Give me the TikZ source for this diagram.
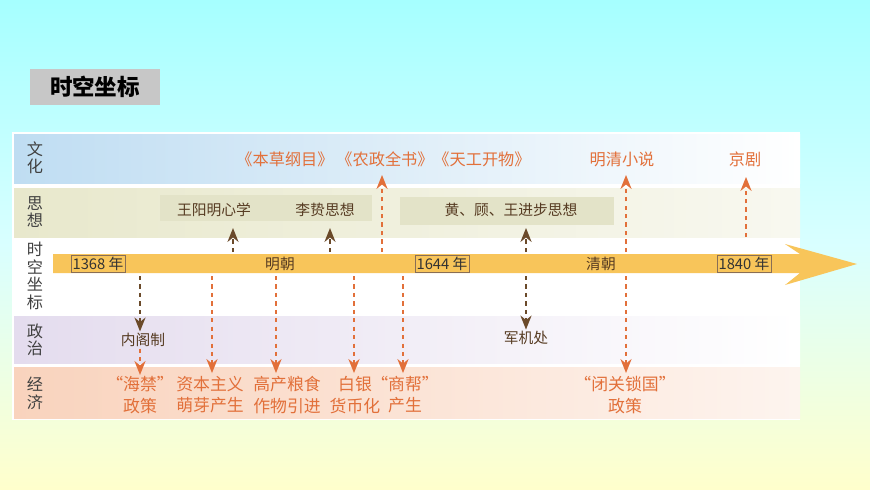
\documentclass[tikz,border=0pt]{standalone}
\usepackage{fontspec}
\setmainfont{Noto Sans CJK SC}
\usetikzlibrary{arrows.meta}
\definecolor{barcol}{HTML}{F8C55A}
\definecolor{orng}{HTML}{E2703A}
\definecolor{brwn}{HTML}{6B4A2A}
\definecolor{culc}{HTML}{BFDDF2}
\definecolor{thoc}{HTML}{E8E8CC}
\definecolor{polc}{HTML}{E4DCEE}
\definecolor{ecoc}{HTML}{F9D3BD}
\begin{document}
\begin{tikzpicture}[x=0.025cm,y=-0.025cm,inner sep=1pt,font=\fontsize{10.5pt}{12pt}\selectfont,
band/.style={draw=none},
rowlabel/.style={align=center,text=black!75,font=\fontsize{11.5pt}{12.5pt}\selectfont},
yearbox/.style={draw=brwn!80,thin,inner sep=1pt,text=black!80},
cult/.style={text=orng,font=\fontsize{11.5pt}{14pt}\selectfont},
econ/.style={text=orng,align=center,font=\fontsize{12pt}{15pt}\selectfont},
dark/.style={text=brwn!80!black},
oarr/.style={orng,thick,dashed,-{Stealth[length=10pt,width=8pt,line width=0pt]}},
darr/.style={brwn,thick,dashed,-{Stealth[length=10pt,width=8pt,line width=0pt]}}]
\useasboundingbox (0,0) rectangle (870,489);
\shade[top color=cyan!35,bottom color=yellow!20,middle color=cyan!15] (0,0) rectangle (870,489);
% title
\node[fill=black!22,minimum width=3.25cm,minimum height=0.92cm,font=\fontsize{16pt}{16pt}\selectfont\bfseries] (title) at (95,87) {时空坐标};
% bands
\fill[white] (12,132) rectangle (800,420);
\shade[band,left color=culc,right color=white] (14,134) rectangle (800,183);
\shade[band,left color=thoc,right color=thoc!30] (14,188) rectangle (800,237);
\shade[band,left color=polc,right color=white] (14,316) rectangle (800,363);
\shade[band,left color=ecoc,right color=ecoc!25] (14,367) rectangle (800,418);
\fill[thoc!80!black!10!thoc] (160,195) rectangle (372,221);
\fill[thoc!80!black!10!thoc] (400,197) rectangle (614,225);
\node[rowlabel] (lcul) at (35,158) {文\\化};
\node[rowlabel] (ltho) at (35,212) {思\\想};
\node[rowlabel] (ltime) at (35,276) {时\\空\\坐\\标};
\node[rowlabel] (lpol) at (35,340) {政\\治};
\node[rowlabel] (leco) at (35,393) {经\\济};
% time bar
\fill[barcol] (53,254) -- (800,254) -- (785,244) -- (857,264) -- (785,285) -- (800,273) -- (53,273) -- cycle;
\node[yearbox] (y1368) at (98,264) {1368 年};
\node[yearbox] (y1644) at (442,264) {1644 年};
\node[yearbox] (y1840) at (744,264) {1840 年};
\node[dark] (ming) at (280,264) {明朝};
\node[dark] (qing) at (601,264) {清朝};
\foreach \n/\x in {wang/233,li/330,nz/382,jun/526,mq/626,jj/746}
  \coordinate (t\n) at (\x,252);
\foreach \n/\x in {nei/140,zb/212,gc/276,by/354,sb/403,jun/526,mq/626}
  \coordinate (b\n) at (\x,276);
% culture
\node[cult] (bc) at (285,159) {《本草纲目》};
\node[cult] (nz) at (385,159) {《农政全书》};
\node[cult] (tg) at (482,159) {《天工开物》};
\node[cult] (mq) at (622,159) {明清小说};
\node[cult] (jj) at (745,159) {京剧};
% thought
\node[dark] (wang) at (214,210) {王阳明心学};
\node[dark] (li) at (325,210) {李贽思想};
\node[dark] (hgw) at (511,210) {黄、顾、王进步思想};
% politics
\node[dark] (nei) at (143,340) {内阁制};
\node[dark] (jun) at (526,338) {军机处};
% economy
\node[econ] (hj) at (140,395) {“海禁”\\政策};
\node[econ] (zb) at (210,395) {资本主义\\萌芽产生};
\node[econ] (gc) at (287,395) {高产粮食\\作物引进};
\node[econ] (by) at (355,395) {白银\\货币化};
\node[econ] (sb) at (405,395) {“商帮”\\产生};
\node[econ] (bg) at (625,395) {“闭关锁国”\\政策};
% connectors
\draw[darr] (twang) -- (233,228);
\draw[darr] (tli) -- (330,228);
\draw[darr] (tjun) -- (526,228);
\draw[darr] (bnei) -- (nei.north-|bnei);
\draw[darr] (bjun) -- (jun.north);
\draw[oarr] (tnz) -- (382,175);
\draw[oarr] (tmq) -- (626,175);
\draw[oarr] (746,237) -- (746,177);
\draw[oarr] (nei.south-|bnei) -- (hj.north);
\draw[oarr] (bzb) -- (212,373);
\draw[oarr] (bgc) -- (276,373);
\draw[oarr] (bby) -- (354,373);
\draw[oarr] (bsb) -- (403,373);
\draw[oarr] (bmq) -- (626,373);
\end{tikzpicture}
\end{document}
